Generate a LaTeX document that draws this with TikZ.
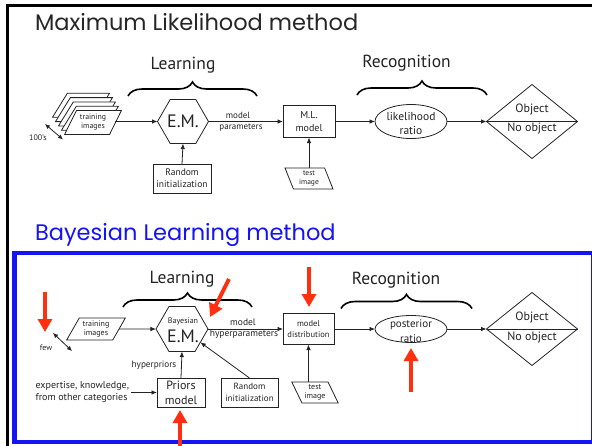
\documentclass[tikz,border=0pt]{standalone}
\usepackage{fontspec}
\setmainfont{PT Sans}
\newfontfamily\headfont{Poppins}
\usetikzlibrary{arrows.meta,decorations.pathreplacing,shapes.geometric}

\definecolor{ink}{RGB}{35,35,35}
\definecolor{bayesblue}{RGB}{20,20,245}
\definecolor{pointred}{RGB}{255,48,16}

\newcommand{\fs}[2]{\fontsize{#1}{#2}\selectfont}

\begin{document}
\begin{tikzpicture}[x=1pt,y=-1pt,
  every node/.style={text=ink, inner sep=0pt, outer sep=0pt},
  wire/.style={draw=ink, line width=0.8pt},
  flow/.style={wire, -{Latex[length=5.5pt,width=4.5pt]}},
  twoway/.style={wire, {Latex[length=5pt,width=4.5pt]}-{Latex[length=5pt,width=4.5pt]}},
  block/.style={draw=ink, line width=0.8pt, rectangle, align=center, fill=white},
  para/.style 2 args={draw=ink, line width=0.8pt, fill=white, align=center, inner sep=1.5pt,
    trapezium, trapezium stretches=true,
    trapezium left angle=#1, trapezium right angle=#2},
  hexa/.style={draw=ink, line width=0.8pt, regular polygon, regular polygon sides=6},
  oval/.style={draw=ink, line width=0.8pt, ellipse},
  decide/.style={draw=ink, line width=0.8pt, diamond},
  bracket/.style={draw=black, line width=1.6pt, decorate, decoration={brace, amplitude=14pt}},
  pointer/.style={draw=pointred, line width=4pt, -{Triangle[length=13pt,width=14pt]}},
  heading/.style={font=\fs{17.5}{19}},
  title/.style={anchor=west, font=\headfont\fs{22.5}{26}},
]
\useasboundingbox (0,0) rectangle (592,445);
\clip (0,0) rectangle (592,445);

% outer frames
\draw[black, line width=2.5pt] (7.5,460) -- (7.5,5.5) -- (610,5.5);
\draw[bayesblue, line width=4.5pt] (14.7,253) rectangle (593.5,442);

% titles
\node[title, text=black!85] (mltitle) at (35,22) {Maximum Likelihood method};
\node[title, text=bayesblue] (bltitle) at (35,235) {Bayesian Learning method};

% ---------------- maximum likelihood ----------------
\node[heading] (learn1) at (183,65) {Learning};
\draw[bracket] (128,96) -- (257,96);
\node[heading] (recog1) at (406.5,63.5) {Recognition};
\draw[bracket] (357,95) -- (487,95);

\foreach \k in {4,3,2,1}
  \node[para={61.5}{118.5}, minimum width=57, minimum height=24] at ({93-3*\k},{122.5-4.3*\k}) {};
\node[para={61.5}{118.5}, minimum width=57, minimum height=24, font=\fs{7.8}{9}] (train1) at (93,122.5) {training\\images};

\coordinate (many1) at (45,124);
\coordinate (many2) at (63,139.5);
\draw[twoway] (many1) -- (many2);
\node[font=\fs{8}{9}] (hundreds) at (38,137.5) {100's};

\node[hexa, minimum size=51] (em) at (183,121.5) {};
\node[font=\fs{18}{20}] (emtext) at (em) {E.M.};

\node[block, minimum width=52, minimum height=32, font=\fs{10}{13}] (ml) at (309,121.5) {M.L.\\model};
\node[oval, minimum width=72, minimum height=34] (lik) at (411,121.5) {};
\node[align=center, font=\fs{11.5}{14}] (liktext) at (411,123.5) {likelihood\\ratio};
\node[decide, minimum width=91, minimum height=74] (dec1) at (532,121.5) {};
\draw[wire] (dec1.west) -- (dec1.east);
\node[font=\fs{12}{13}] (obj1) at (532,109) {Object};
\node[font=\fs{12}{13}] (nobj1) at (532,129) {No object};

\node[block, minimum width=58, minimum height=29, font=\fs{9.5}{12}] (rnd1) at (182,178.5) {Random\\initialization};
\node[para={108.4}{71.6}, minimum width=48, minimum height=21, font=\fs{7.5}{9}] (test1) at (309,178.5) {test\\image};

\draw[flow] (train1.east |- em.west) -- (em.west);
\draw[flow] (em.east) -- (ml.west);
\node[font=\fs{9}{10}] (mp1) at (238,115) {model};
\node[font=\fs{9}{10}] (mp2) at (241,127.5) {parameters};
\draw[flow] (rnd1.north) -- (em.south);
\draw[flow] (test1.north -| ml.south) -- (ml.south);
\draw[flow] (ml.east) -- (lik.west);
\draw[flow] (lik.east) -- (dec1.west);

% ---------------- bayesian learning ----------------
\node[heading] (learn2) at (182,279) {Learning};
\draw[bracket] (123,307) -- (252,307);
\node[heading] (recog2) at (396,280) {Recognition};
\draw[bracket] (341,308.5) -- (472,308.5);

\node[para={60}{120}, minimum width=59, minimum height=22, font=\fs{8}{9}] (train2) at (96,329) {training\\images};
\coordinate (few1) at (53,333);
\coordinate (few2) at (72,351);
\draw[twoway] (few1) -- (few2);
\node[font=\fs{8}{9}] (fewtext) at (46,347.5) {few};

\node[hexa, minimum size=52] (bem) at (182,329) {};
\node[font=\fs{8}{9}] (bemtop) at (183,321) {Bayesian};
\node[font=\fs{18}{20}] (bemtext) at (183,336) {E.M.};

\node[block, minimum width=51, minimum height=31, font=\fs{8.5}{11}] (dist) at (308.5,329) {model\\distribution};
\node[oval, minimum width=72, minimum height=27] (post) at (411,329) {};
\node[align=center, font=\fs{11}{15}] (posttext) at (411,331.5) {posterior\\ratio};
\node[decide, minimum width=91, minimum height=73] (dec2) at (532,329) {};
\draw[wire] (dec2.west) -- (dec2.east);
\node[font=\fs{12}{13}] (obj2) at (532,317.5) {Object};
\node[font=\fs{12}{13}] (nobj2) at (532,337.5) {No object};

\node[para={116.6}{63.4}, minimum width=46.5, minimum height=21, font=\fs{8}{9}] (test2) at (315,392.5) {test\\image};
\node[block, minimum width=48, minimum height=29, font=\fs{12}{15}] (pri) at (181,392.5) {Priors\\model};
\node[block, minimum width=57, minimum height=29, font=\fs{9}{12}] (rnd2) at (249.5,392.5) {Random\\initialization};
\node[font=\fs{9.2}{10}] (hyp) at (154,365) {hyperpriors};
\node[align=left, anchor=east, font=\fs{10}{12}] (expert) at (129,392.5) {expertise, knowledge,\\from other categories};

\draw[flow] (train2.east) -- (bem.west);
\draw[flow] (bem.east) -- (dist.west);
\node[font=\fs{9.5}{10}] (mh1) at (243,322) {model};
\node[font=\fs{9.5}{10}] (mh2) at (244,334.5) {hyperparameters};
\draw[flow] (dist.east) -- (post.west);
\draw[flow] (post.east) -- (dec2.west);
\draw[flow] (test2.north -| dist.south) -- (dist.south);
\draw[flow] (pri.north) -- (bem.south);
\draw[flow] (rnd2.north) -- (bem);
\draw[flow] ([xshift=2pt]expert.east) -- (pri.west);

% red pointers
\coordinate (r1a) at (45,292);  \coordinate (r1b) at (45,332);
\coordinate (r2a) at (229,279); \coordinate (r2b) at (210,317);
\coordinate (r3a) at (309,267); \coordinate (r3b) at (309,307);
\coordinate (r4a) at (411,392); \coordinate (r4b) at (411,348);
\coordinate (r5a) at (180,450); \coordinate (r5b) at (180,410);
\foreach \s/\e in {r1a/r1b, r2a/r2b, r3a/r3b, r4a/r4b, r5a/r5b}
  \draw[pointer] (\s) -- (\e);
\end{tikzpicture}
\end{document}
